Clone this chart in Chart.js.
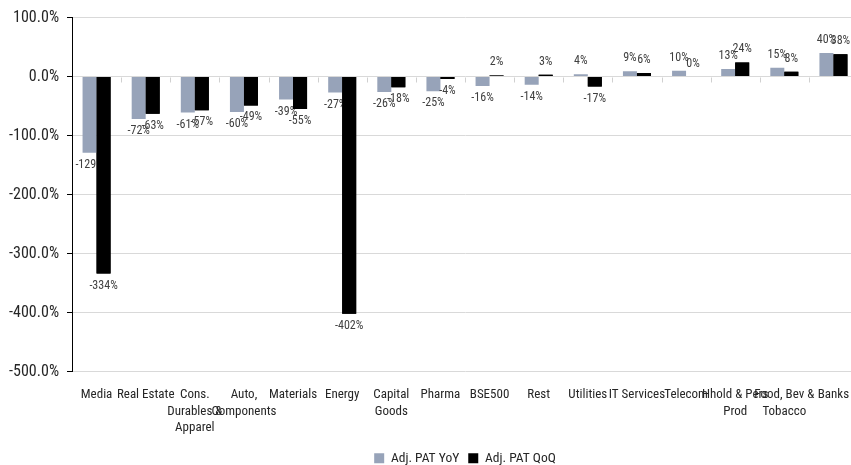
<!DOCTYPE html>
<html>
<head>
<meta charset="utf-8">
<script src="https://cdn.jsdelivr.net/npm/chart.js@4/dist/chart.umd.min.js"></script>
<style>
  html, body { margin: 0; padding: 0; background: #fff; overflow: hidden; }
  #wrap { width: 859px; height: 465px; position: relative; }
</style>
</head>
<body>
<div id="wrap"><canvas id="c"></canvas></div>
<script>
// Sector earnings growth: adjusted PAT, year-on-year vs quarter-on-quarter (%)
const categories = [
  'Media', 'Real Estate', ['Cons.', 'Durables &', 'Apparel'], ['Auto,', 'Components'],
  'Materials', 'Energy', ['Capital', 'Goods'], 'Pharma', 'BSE500', 'Rest',
  'Utilities', 'IT Services', 'Telecom', ['Hhold & Pers', 'Prod'],
  ['Food, Bev &', 'Tobacco'], 'Banks'
];
const patYoY = [-129, -72, -61, -60, -39, -27, -26, -25, -16, -14, 4, 9, 10, 13, 15, 40];
const patQoQ = [-334, -63, -57, -49, -55, -402, -18, -4, 2, 3, -17, 6, 0, 24, 8, 38];
const seriesNames = ['Adj. PAT YoY', 'Adj. PAT QoQ'];
const yTicks = [100, 0, -100, -200, -300, -400, -500];

// Find an installed sans face (and width) closest to a narrow grotesque
function pickFont() {
  const ctx = document.createElement('canvas').getContext('2d');
  const probe = 'Real Estate';
  const target = 57 / 14 * 20;
  ctx.font = '20px monospace';
  const base = ctx.measureText(probe).width;
  const families = ['Liberation Sans Narrow', 'Roboto', 'Noto Sans', 'Open Sans', 'DejaVu Sans', 'Inter', 'Lato', 'Liberation Sans'];
  const stretches = ['', 'semi-condensed', 'condensed', 'extra-condensed'];
  let best = { family: 'sans-serif', stretch: '', score: Infinity };
  for (const fam of families) {
    for (const st of stretches) {
      ctx.font = (st ? st + ' ' : '') + '20px "' + fam + '", monospace';
      const w = ctx.measureText(probe).width;
      if (Math.abs(w - base) < 0.5) continue;
      const score = Math.abs(w - target);
      if (score < best.score - 0.5) best = { family: '"' + fam + '", sans-serif', stretch: st, score };
    }
  }
  return best;
}
const PICK = pickFont();
const FONT = PICK.family;
const STRETCH = PICK.stretch;
Chart.defaults.font.family = FONT;
if (STRETCH) Chart.defaults.font.weight = STRETCH;
Chart.defaults.color = '#262626';
const fontString = size => (STRETCH ? STRETCH + ' ' : '') + size + 'px ' + FONT;

// Value labels at the bar ends; the first series' labels sit under the second series' bars
const valueLabels = {
  id: 'valueLabels',
  afterDatasetsDraw(chart) {
    const ctx = chart.ctx;
    const drawLabels = (idx) => {
      const meta = chart.getDatasetMeta(idx);
      const vals = chart.data.datasets[idx].data;
      ctx.save();
      ctx.font = fontString(12);
      ctx.fillStyle = '#404040';
      ctx.textAlign = 'center';
      ctx.textBaseline = 'middle';
      meta.data.forEach((el, i) => {
        const v = vals[i];
        const y = v < 0 ? el.y + 12 : el.y - 13;
        ctx.fillText(v + '%', el.x, y);
      });
      ctx.restore();
    };
    drawLabels(0);
    const area = chart.chartArea;
    ctx.save();
    ctx.beginPath();
    ctx.rect(area.left, area.top, area.width, area.height);
    ctx.clip();
    chart.getDatasetMeta(1).data.forEach(el => el.draw(ctx));
    ctx.restore();
    drawLabels(1);
  }
};

// Small category separators hanging from the zero line
const zeroTicks = {
  id: 'zeroTicks',
  afterDatasetsDraw(chart) {
    const xs = chart.scales.x, ys = chart.scales.y;
    const y0 = Math.round(ys.getPixelForValue(0)) + 0.5;
    const step = xs.width / categories.length;
    const ctx = chart.ctx;
    ctx.save();
    ctx.strokeStyle = '#D0D0D0';
    ctx.lineWidth = 1;
    ctx.beginPath();
    for (let i = 1; i <= categories.length; i++) {
      const x = Math.round(xs.getPixelForValue(i - 1) + step / 2) + 0.5;
      ctx.moveTo(x, y0);
      ctx.lineTo(x, y0 + 5);
    }
    ctx.stroke();
    ctx.restore();
  }
};

new Chart(document.getElementById('c'), {
  type: 'bar',
  data: {
    labels: categories,
    datasets: [
      { label: seriesNames[0], data: patYoY, backgroundColor: '#97A3B9', borderWidth: 0 },
      { label: seriesNames[1], data: patQoQ, backgroundColor: '#000000', borderWidth: 0 }
    ]
  },
  options: {
    responsive: true,
    maintainAspectRatio: false,
    animation: false,
    datasets: { bar: { categoryPercentage: 0.57, barPercentage: 1.0 } },
    layout: { padding: { top: 17, right: 1, left: 0, bottom: -10 } },
    plugins: {
      tooltip: { enabled: false },
      legend: {
        position: 'bottom',
        fullSize: false,
        labels: {
          boxWidth: 10, boxHeight: 10, padding: 9,
          font: { size: 13.5 }, color: '#262626'
        }
      }
    },
    scales: {
      x: {
        grid: { display: false },
        border: { display: false },
        ticks: {
          autoSkip: false, maxRotation: 0, minRotation: 0, padding: 7,
          font: { size: 13, lineHeight: 1.27 }, color: '#262626'
        },
        afterFit(scale) { scale.height = 71; }
      },
      y: {
        min: -500, max: 100,
        afterBuildTicks(scale) { scale.ticks = yTicks.map(v => ({ value: v })); },
        grid: { color: '#D9D9D9', tickColor: '#000', tickLength: 5 },
        border: { display: true, color: '#000', width: 1 },
        ticks: {
          padding: 8, font: { size: 16 }, color: '#262626',
          callback: v => v.toFixed(1) + '%'
        },
        afterFit(scale) { scale.width = 72; }
      }
    }
  },
  plugins: [valueLabels, zeroTicks]
});
</script>
</body>
</html>
